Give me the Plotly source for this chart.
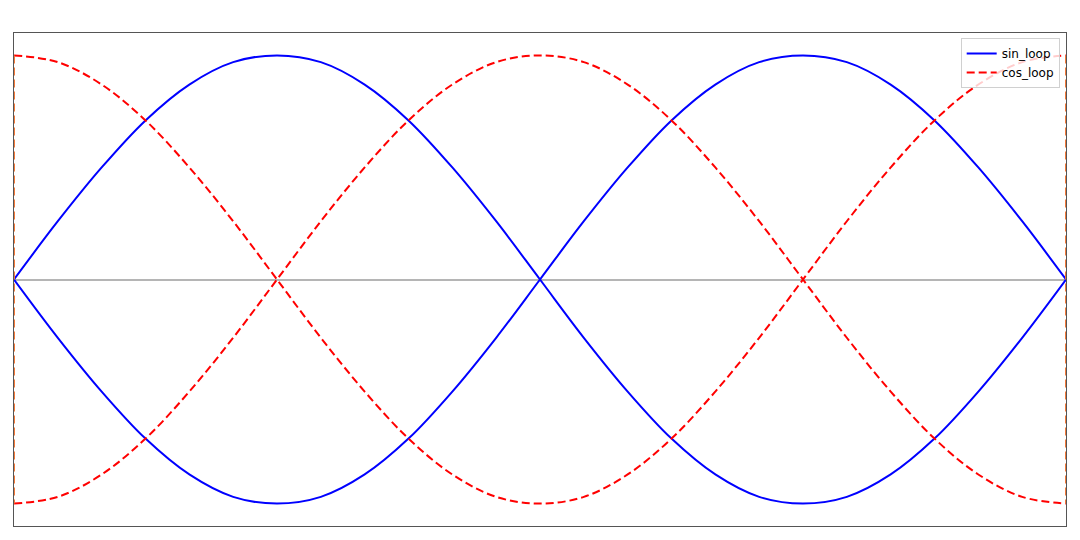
import plotly.graph_objects as go

# angle in degrees, sampled every 15 degrees over one full turn
x_deg = [0, 15, 30, 45, 60, 75, 90, 105, 120, 135, 150, 165, 180,
         195, 210, 225, 240, 255, 270, 285, 300, 315, 330, 345, 360]

sin_upper = [0, 0.26, 0.5, 0.71, 0.87, 0.97, 1, 0.97, 0.87, 0.71, 0.5, 0.26, 0,
             -0.26, -0.5, -0.71, -0.87, -0.97, -1, -0.97, -0.87, -0.71, -0.5, -0.26, 0]
sin_lower = [0, -0.26, -0.5, -0.71, -0.87, -0.97, -1, -0.97, -0.87, -0.71, -0.5, -0.26, 0,
             0.26, 0.5, 0.71, 0.87, 0.97, 1, 0.97, 0.87, 0.71, 0.5, 0.26, 0]
cos_upper = [1, 0.97, 0.87, 0.71, 0.5, 0.26, 0, -0.26, -0.5, -0.71, -0.87, -0.97, -1,
             -0.97, -0.87, -0.71, -0.5, -0.26, 0, 0.26, 0.5, 0.71, 0.87, 0.97, 1]
cos_lower = [-1, -0.97, -0.87, -0.71, -0.5, -0.26, 0, 0.26, 0.5, 0.71, 0.87, 0.97, 1,
             0.97, 0.87, 0.71, 0.5, 0.26, 0, -0.26, -0.5, -0.71, -0.87, -0.97, -1]

# the cos loop closes with vertical segments at both ends
cos_edge_x = [0, 0, None, 360, 360]
cos_edge_y = [1, -1, None, 1, -1]

blue_line = dict(color='#0000ff', width=2, shape='spline')
red_line = dict(color='#ff0000', width=2, dash='8px,4px', shape='spline')

fig = go.Figure()
fig.add_trace(go.Scatter(x=x_deg, y=sin_upper, mode='lines', line=blue_line,
                         name='sin_loop', legendgroup='sin'))
fig.add_trace(go.Scatter(x=x_deg, y=sin_lower, mode='lines', line=blue_line,
                         name='sin_loop', legendgroup='sin', showlegend=False))
fig.add_trace(go.Scatter(x=x_deg, y=cos_upper, mode='lines', line=red_line,
                         name='cos_loop', legendgroup='cos'))
fig.add_trace(go.Scatter(x=x_deg, y=cos_lower, mode='lines', line=red_line,
                         name='cos_loop', legendgroup='cos', showlegend=False))
fig.add_trace(go.Scatter(x=cos_edge_x, y=cos_edge_y, mode='lines',
                         line=dict(color='#f47a3a', width=2, dash='8px,4px'),
                         name='cos_loop', legendgroup='cos', showlegend=False))

# page adds an 8px body margin, so the figure is sized to fill the rest
fig.update_layout(
    width=1072, height=532,
    margin=dict(l=6, r=14, t=25, b=14),
    plot_bgcolor='white', paper_bgcolor='white',
    font=dict(family='DejaVu Sans', size=11, color='black'),
    legend=dict(x=0.994, y=0.99, xanchor='right', yanchor='top',
                bgcolor='rgba(255,255,255,0.8)', bordercolor='#d0d0d0', borderwidth=1,
                font=dict(size=12), tracegroupgap=0),
)
fig.update_xaxes(range=[0, 360], showgrid=False, showticklabels=False, ticks='',
                 zeroline=False, showline=True, mirror=True, linecolor='#555555', linewidth=1)
fig.update_yaxes(range=[-1.1, 1.1], showgrid=False, showticklabels=False, ticks='',
                 zeroline=True, zerolinecolor='#b5b5b5', zerolinewidth=1.5,
                 showline=True, mirror=True, linecolor='#555555', linewidth=1)

fig.write_html("out.html")
